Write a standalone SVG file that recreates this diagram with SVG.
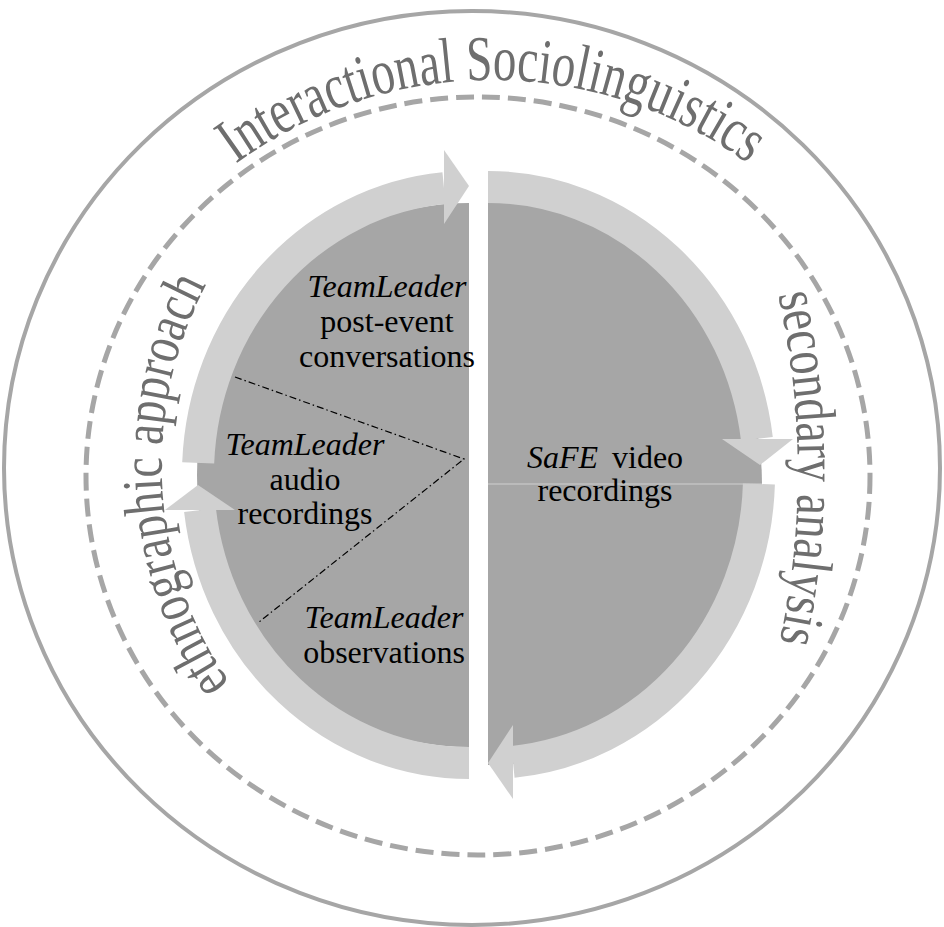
<svg xmlns="http://www.w3.org/2000/svg" width="944" height="927" viewBox="0 0 944 927">
  <style>
    .ring { fill: none; stroke: #a6a6a6; }
    .disc { fill: #a6a6a6; }
    .band { fill: none; stroke: #d0d0d0; stroke-width: 32; stroke-linecap: butt; }
    .head { fill: #d0d0d0; }
    .outer-label { font-family: "Liberation Serif", "Times New Roman", serif; fill: #6e6e6e; }
    .label { font-family: "Liberation Serif", "Times New Roman", serif; font-size: 32px; fill: #000; text-anchor: middle; }
    .it { font-style: italic; }
    .sep { fill: none; stroke: #000; stroke-width: 1.2; stroke-dasharray: 7 3 1.5 3; }
  </style>
  <defs>
    <path id="arc-top" d="M 59 513 A 433 433 0 0 1 925 513"/>
    <path id="arc-left" d="M 298.9 758.5 A 384 384 0 0 1 298.9 170.1"/>
    <path id="arc-right" d="M 722 130 A 810 810 0 0 1 722 814"/>
  </defs>

  <rect width="944" height="927" fill="#fff"/>

  <!-- framing rings -->
  <g id="frame">
    <ellipse class="ring" cx="472" cy="468" rx="468" ry="457" stroke-width="4"/>
    <ellipse class="ring" cx="478" cy="476" rx="392" ry="379" stroke-width="5" stroke-dasharray="18 8"/>
  </g>

  <!-- data sources: left half and right half of the inner disc -->
  <g id="fieldwork">
    <path class="disc" d="M 469 203 A 272 272 0 0 0 469 747 Z"/>
  </g>
  <g id="safe-upper">
    <path class="disc" d="M 488 484 L 488 202 A 274 282 0 0 1 762 484 Z"/>
  </g>
  <g id="safe-lower">
    <path class="disc" d="M 488 484 L 762 484 A 274 281 0 0 1 488 765 Z"/>
  </g>
  <line x1="488" y1="484" x2="762" y2="484" stroke="#d0d0d0" stroke-width="1"/>

  <!-- cycle arrows -->
  <g id="connectors">
    <path class="band" d="M 198.2 462.9 A 271 288 0 0 1 444 188.2"/>
    <polygon class="head" points="444,150 469,186 444,224"/>
    <path class="band" d="M 469 763 A 271 288 0 0 1 200 510.1"/>
    <polygon class="head" points="165,510 198,485 235,510"/>
    <path class="band" d="M 488 187 A 271 288 0 0 1 756.9 438.9"/>
    <polygon class="head" points="722,439 793,439 760,465"/>
    <path class="band" d="M 758.9 484 A 271 288 0 0 1 513 761.8"/>
    <polygon class="head" points="513,725 488,763 513,799"/>
    <polyline class="sep" points="235,377 464,459 259,622"/>
  </g>

  <!-- outer labels (tall, arched lettering) -->
  <g id="label-is">
    <text class="outer-label" font-size="64"><textPath href="#arc-top" startOffset="50%" text-anchor="middle" textLength="548" lengthAdjust="spacingAndGlyphs">Interactional Sociolinguistics</textPath></text>
  </g>
  <g id="label-ethno">
    <text class="outer-label" font-size="58"><textPath href="#arc-left" startOffset="46.6%" text-anchor="middle" textLength="420" lengthAdjust="spacingAndGlyphs">ethnographic approach</textPath></text>
  </g>
  <g id="label-secondary">
    <text class="outer-label" font-size="58"><textPath href="#arc-right" startOffset="49.5%" text-anchor="middle" textLength="350" lengthAdjust="spacingAndGlyphs">secondary analysis</textPath></text>
  </g>

  <!-- source labels -->
  <g id="post-event">
    <text class="label" x="387" y="297"><tspan class="it">TeamLeader</tspan></text>
    <text class="label" x="387" y="332">post-event</text>
    <text class="label" x="387" y="367">conversations</text>
  </g>
  <g id="audio">
    <text class="label" x="305" y="455"><tspan class="it">TeamLeader</tspan></text>
    <text class="label" x="305" y="490">audio</text>
    <text class="label" x="305" y="524">recordings</text>
  </g>
  <g id="observations">
    <text class="label" x="384" y="628"><tspan class="it">TeamLeader</tspan></text>
    <text class="label" x="384" y="663">observations</text>
  </g>
  <g id="safe">
    <text class="label" x="605" y="468"><tspan class="it">SaFE</tspan><tspan dx="14">video</tspan></text>
    <text class="label" x="605" y="501">recordings</text>
  </g>
</svg>
